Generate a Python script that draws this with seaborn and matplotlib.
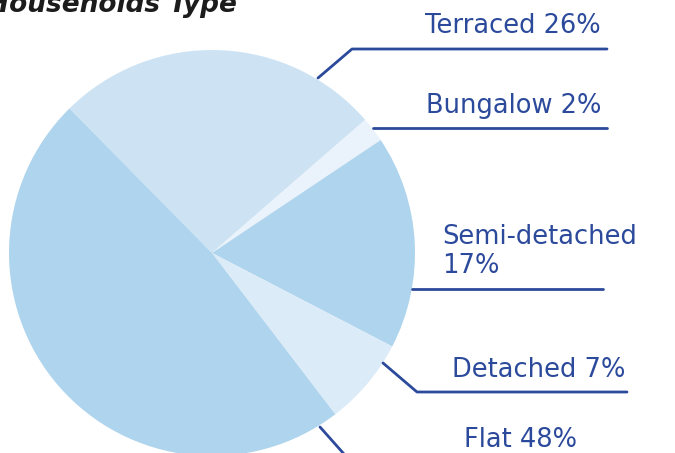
import matplotlib
matplotlib.use("Agg")
import matplotlib.pyplot as plt
import seaborn as sns

categories = ["Terraced", "Bungalow", "Semi-detached", "Detached", "Flat"]
shares = [26, 2, 17, 7, 48]
labels = ["Terraced 26%", "Bungalow 2%", "Semi-detached\n17%", "Detached 7%", "Flat 48%"]
title = "Households Type"

sns.set_theme(style="white")
plt.rcParams["font.family"] = ["DejaVu Sans"]

colors = ["#cde3f3", "#eaf3fb", "#afd4ed", "#dcebf8", "#afd4ed"]
navy = "#2c4a9b"

W, H = 675, 453
fig = plt.figure(figsize=(W / 100, H / 100), dpi=100)
ax = fig.add_axes([0, 0, 1, 1])

def Y(py):
    return H - py

ax.pie(shares, colors=colors, startangle=134.6, counterclock=False,
       center=(212, Y(253)), radius=203, wedgeprops=dict(linewidth=0))
ax.set_xlim(0, W)
ax.set_ylim(0, H)
ax.set_aspect("auto")
ax.axis("off")

fs = 18.5
tkw = dict(fontsize=fs, color=navy, va="baseline")
# Terraced
ax.plot([318, 352, 607], [Y(78), Y(49), Y(49)], color=navy, lw=2, clip_on=False)
ax.text(601, Y(33), labels[0], ha="right", **tkw)
# Bungalow
ax.plot([373, 607], [Y(128), Y(128)], color=navy, lw=2)
ax.text(601, Y(113), labels[1], ha="right", **tkw)
# Semi-detached
ax.plot([412, 603], [Y(289), Y(289)], color=navy, lw=2)
ax.text(442, Y(273), labels[2], ha="left", linespacing=1.15, **tkw)
# Detached
ax.plot([383, 417, 627], [Y(363), Y(392), Y(392)], color=navy, lw=2)
ax.text(625, Y(377), labels[3], ha="right", **tkw)
# Flat
ax.plot([320, 352, 620], [Y(427), Y(463), Y(463)], color=navy, lw=2, clip_on=False)
ax.text(577, Y(447), labels[4], ha="right", **tkw)

# Title (cut at top-left like the reference)
ax.text(237, Y(12), title, ha="right", va="baseline", fontsize=19,
        fontweight="bold", fontstyle="italic", color="#1c1c1c", clip_on=False)

fig.savefig("out.png", dpi=100)
